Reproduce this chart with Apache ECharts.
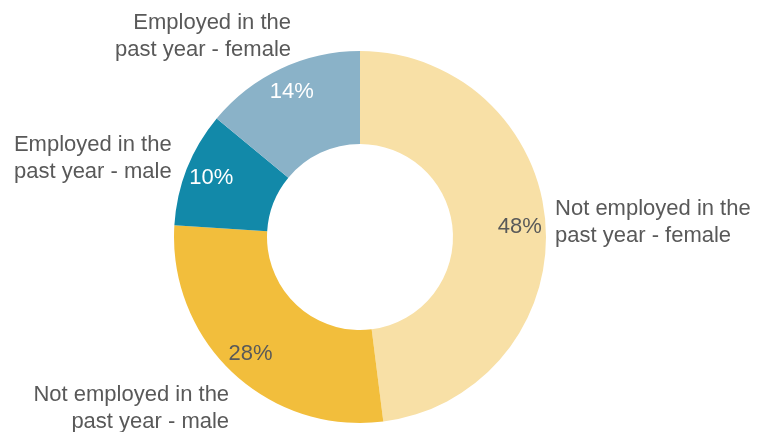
<!DOCTYPE html>
<html>
<head>
<meta charset="utf-8">
<script src="https://cdn.jsdelivr.net/npm/echarts@6/dist/echarts.min.js"></script>
<style>
html,body{margin:0;padding:0;background:#fff;}
#chart{width:763px;height:432px;}
</style>
</head>
<body>
<div id="chart"></div>
<script>
// Data
const categories = [
  'Not employed in the\npast year - female',
  'Not employed in the\npast year - male',
  'Employed in the\npast year - male',
  'Employed in the\npast year - female'
];
const values = [48, 28, 10, 14];

// Styles
const sliceColors = ['#F8E0A6', '#F2BE3C', '#1289A9', '#8AB2C8'];
const pctColors = ['#595959', '#595959', '#ffffff', '#ffffff'];
const lineLen = [53, 48.6, 28.6, 36.1];
const lineLen2 = [-48.5, -34.7, -16.2, -30.6];
const FONT = 'Arial, "Liberation Sans", sans-serif';
const GRAY = '#595959';

const chart = echarts.init(document.getElementById('chart'), null, {renderer: 'canvas'});

const mainData = categories.map((name, i) => ({
  name: name,
  value: values[i],
  itemStyle: {color: sliceColors[i]},
  labelLine: {show: false, length: lineLen[i], length2: lineLen2[i]}
}));

const pctData = categories.map((name, i) => ({
  name: name,
  value: values[i],
  itemStyle: {color: 'rgba(0,0,0,0)'},
  label: {color: pctColors[i]}
}));

chart.setOption({
  animation: false,
  backgroundColor: '#ffffff',
  series: [
    {
      type: 'pie',
      center: [360, 237],
      radius: [93, 186],
      startAngle: 90,
      clockwise: true,
      avoidLabelOverlap: false,
      silent: true,
      itemStyle: {borderWidth: 0},
      label: {
        show: true,
        position: 'outside',
        alignTo: 'none',
        distanceToLabelLine: 5,
        color: GRAY,
        fontFamily: FONT,
        fontSize: 22,
        lineHeight: 27,
        formatter: p => p.name
      },
      labelLine: {show: false},
      emphasis: {disabled: true},
      data: mainData
    },
    {
      type: 'pie',
      center: [360, 237],
      radius: [128, 186],
      startAngle: 90,
      clockwise: true,
      avoidLabelOverlap: false,
      silent: true,
      z: 5,
      itemStyle: {borderWidth: 0},
      label: {
        show: true,
        position: 'inside',
        fontFamily: FONT,
        fontSize: 22,
        formatter: p => p.value + '%'
      },
      labelLine: {show: false},
      emphasis: {disabled: true},
      data: pctData
    }
  ]
});
</script>
</body>
</html>
